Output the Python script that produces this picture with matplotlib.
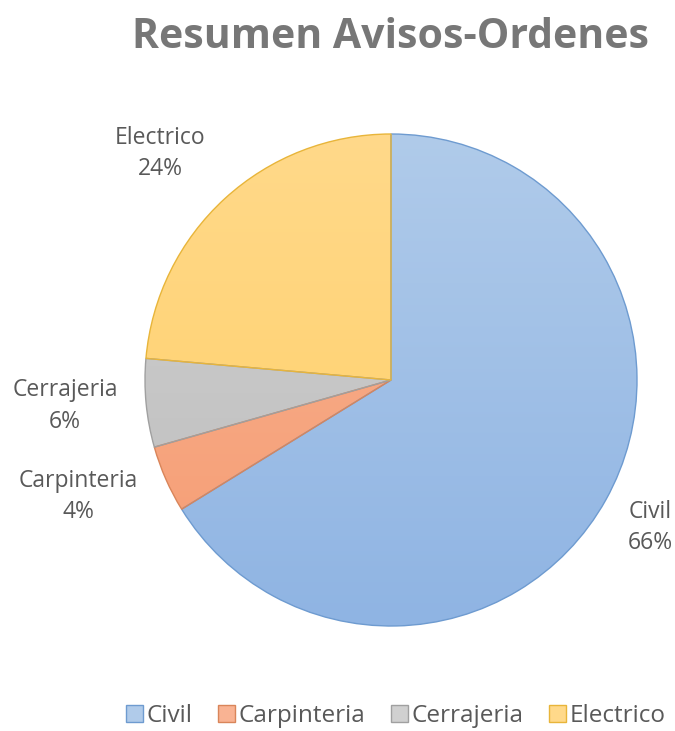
import matplotlib
matplotlib.use("Agg")
import matplotlib.pyplot as plt
import numpy as np
from matplotlib.colors import LinearSegmentedColormap

categories = ["Civil", "Carpinteria", "Cerrajeria", "Electrico"]
values = [66.2, 4.4, 5.8, 23.6]
top_colors = ["#B0CBEA", "#F9B393", "#D0D0D0", "#FFD98A"]
bottom_colors = ["#8FB4E3", "#F59C72", "#BDBDBD", "#FFCF66"]
edge_colors = ["#6E9BD0", "#D9855A", "#A0A0A0", "#E8B53A"]
# label anchor offsets (data units) for the outside data labels
label_pos = [(1.053, -0.598), (-1.272, -0.472), (-1.325, -0.106), (-0.939, 0.922)]

FONT = ["Open Sans", "DejaVu Sans"]
TXT = "#595959"

fig = plt.figure(figsize=(6.75, 7.31), dpi=100)
fig.patch.set_facecolor("white")
R_px = 246
cx, cy = 391, 731 - 380
ax = fig.add_axes([(cx - R_px) / 675, (cy - R_px) / 731, 2 * R_px / 675, 2 * R_px / 731])
wedges, _ = ax.pie(values, startangle=90, counterclock=False, radius=1,
                   colors=bottom_colors,
                   wedgeprops=dict(linewidth=1.0))
ax.set_xlim(-1, 1)
ax.set_ylim(-1, 1)
ax.set_aspect("equal")
ax.axis("off")

grad = np.linspace(1, 0, 256).reshape(-1, 1)
for w, tc, bc, ec in zip(wedges, top_colors, bottom_colors, edge_colors):
    cmap = LinearSegmentedColormap.from_list("g", [bc, tc])
    im = ax.imshow(grad, cmap=cmap, extent=(-1, 1, -1, 1), aspect="auto", zorder=1.5)
    im.set_clip_path(w)
    w.set_facecolor("none")
    w.set_edgecolor(ec)
    w.set_zorder(2)

total = sum(values)
for cat, v, (lx, ly) in zip(categories, values, label_pos):
    ax.text(lx, ly, f"{cat}\n{round(v / total * 100):.0f}%", ha="center", va="center",
            fontsize=16.5, color=TXT, family=FONT, linespacing=1.4, clip_on=False)

fig.text(391 / 675, 1 - 37 / 731, "Resumen Avisos-Ordenes", ha="center", va="center",
         fontsize=29.5, fontweight="bold", color="#777777", family=FONT)

handles = [plt.Rectangle((0, 0), 1, 1, facecolor=tc, edgecolor=ec, linewidth=1.0)
           for tc, ec in zip(top_colors, edge_colors)]
leg = fig.legend(handles, categories, loc="center", bbox_to_anchor=(396 / 675, 1 - 716 / 731),
                 ncol=4, frameon=False, handlelength=0.7, handleheight=0.7,
                 handletextpad=0.15, columnspacing=1.05, borderpad=0, borderaxespad=0,
                 prop={"family": FONT, "size": 17.5})
for t in leg.get_texts():
    t.set_color(TXT)

fig.savefig("out.png", dpi=100, facecolor="white")
